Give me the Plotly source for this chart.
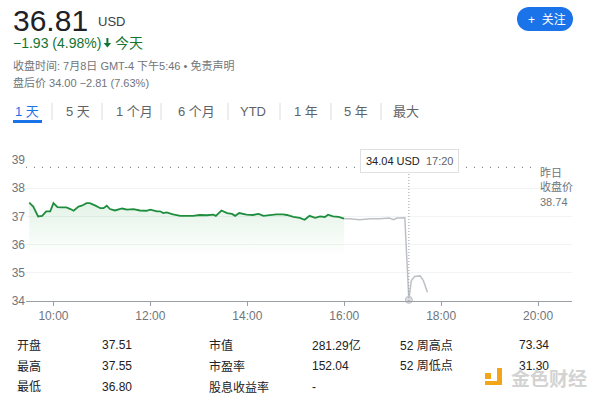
import plotly.graph_objects as go

DAY = "2021-07-08 "

# Regular session (green)
reg_times = ["09:30", "09:35", "09:41", "09:46", "09:51", "09:56", "10:00", "10:05", "10:10", "10:16",
             "10:21", "10:25", "10:31", "10:35", "10:41", "10:45", "10:52", "10:58", "11:02", "11:06",
             "11:10", "11:16", "11:25", "11:31", "11:39", "11:47", "11:55", "12:00", "12:08", "12:12",
             "12:16", "12:20", "12:28", "12:37", "12:45", "12:53", "13:01", "13:10", "13:18", "13:21",
             "13:28", "13:35", "13:41", "13:45", "13:50", "13:59", "14:07", "14:14", "14:20", "14:28",
             "14:36", "14:44", "14:49", "14:57", "15:05", "15:11", "15:17", "15:24", "15:30", "15:36",
             "15:40", "15:46", "15:53", "16:00"]
reg_prices = [37.49, 37.35, 37.00, 37.02, 37.18, 37.18, 37.47, 37.33, 37.32, 37.32,
              37.26, 37.20, 37.35, 37.38, 37.47, 37.47, 37.38, 37.29, 37.29, 37.38,
              37.26, 37.21, 37.28, 37.24, 37.26, 37.21, 37.20, 37.24, 37.18, 37.18,
              37.12, 37.14, 37.07, 37.02, 37.02, 37.02, 37.05, 37.04, 37.06, 37.02,
              37.21, 37.12, 37.09, 37.02, 37.12, 37.06, 37.05, 37.09, 37.02, 37.05,
              37.07, 37.07, 37.05, 36.98, 36.95, 36.88, 37.02, 36.95, 37.00, 36.98,
              37.06, 37.00, 36.98, 36.92]

# After-hours (grey)
ah_times = ["16:00", "16:07", "16:19", "16:32", "16:44", "16:56", "17:01", "17:05", "17:15",
            "17:20", "17:23", "17:27", "17:34", "17:38", "17:43"]
ah_prices = [36.92, 36.92, 36.88, 36.92, 36.92, 36.94, 36.88, 36.94, 36.95,
             34.04, 34.72, 34.87, 34.89, 34.72, 34.31]

prev_close = 38.74
hover_time = "17:20"
hover_price = 34.04

y_ticks = [34, 35, 36, 37, 38, 39]
x_tick_times = ["10:00", "12:00", "14:00", "16:00", "18:00", "20:00"]

tabs = ["1 天", "5 天", "1 个月", "6 个月", "YTD", "1 年", "5 年", "最大"]
tab_centers = [27, 78, 134, 196, 253, 306, 356, 406]
tab_seps = [52, 102, 161, 228, 280, 331, 381]

stat_labels_1 = ["开盘", "最高", "最低"]
stat_values_1 = ["37.51", "37.55", "36.80"]
stat_labels_2 = ["市值", "市盈率", "股息收益率"]
stat_values_2 = ["281.29亿", "152.04", "-"]
stat_labels_3 = ["52 周高点", "52 周低点"]
stat_values_3 = ["73.34", "31.30"]

FONT = "Liberation Sans, Arial, Noto Sans CJK SC"
W, H = 600, 400
L, R, T, B = 26, 28, 160, 99
PW = W - L - R
PH = H - T - B


def px(x):
    return (x - L) / PW


def py(y):
    return (H - B - y) / PH


fig = go.Figure()

fig.add_trace(go.Scatter(
    x=[DAY + t for t in reg_times], y=reg_prices, mode="lines",
    line=dict(color="#1e8e3e", width=1.8), fill="tozeroy",
    fillgradient=dict(type="vertical",
                      colorscale=[[0, "rgba(52,168,83,0)"], [1, "rgba(52,168,83,0.14)"]],
                      start=35.6, stop=37.5),
    hoverinfo="skip", showlegend=False))

fig.add_trace(go.Scatter(
    x=[DAY + t for t in ah_times], y=ah_prices, mode="lines",
    line=dict(color="#bdc1c6", width=1.5), hoverinfo="skip", showlegend=False))

fig.add_trace(go.Scatter(
    x=[DAY + hover_time], y=[hover_price], mode="markers", cliponaxis=False,
    marker=dict(color="#dadce0", size=7, line=dict(color="#bdc1c6", width=1)),
    hoverinfo="skip", showlegend=False))

shapes = []
# previous close dotted line
shapes.append(dict(type="line", xref="x", yref="y", x0=DAY + "09:26", x1=DAY + "20:00",
                   y0=prev_close, y1=prev_close,
                   line=dict(color="#80868b", width=1.2, dash="1px,7px"), layer="above"))
# vertical hover line
shapes.append(dict(type="line", xref="x", yref="paper", x0=DAY + hover_time, x1=DAY + hover_time,
                   y0=0, y1=py(174), line=dict(color="#9aa0a6", width=1, dash="1px,2px")))
# tab underline
shapes.append(dict(type="rect", xref="paper", yref="paper", x0=px(13), x1=px(42),
                   y0=py(123), y1=py(120), fillcolor="#1a73e8", line=dict(width=0)))
# tab separators
for s in tab_seps:
    shapes.append(dict(type="line", xref="paper", yref="paper", x0=px(s), x1=px(s),
                       y0=py(103), y1=py(120), line=dict(color="#dadce0", width=1)))
# follow button (pill)
shapes.append(dict(type="rect", xref="paper", yref="paper", x0=px(529), x1=px(561),
                   y0=py(31), y1=py(7), fillcolor="#1a73e8", line=dict(width=0)))
for cx0, cx1 in [(517, 541), (549, 573)]:
    shapes.append(dict(type="circle", xref="paper", yref="paper", x0=px(cx0), x1=px(cx1),
                       y0=py(31), y1=py(7), fillcolor="#1a73e8", line=dict(width=0)))
# down arrow icon next to the change
pts = [(106.4, 38), (108.4, 38), (108.4, 43), (111.2, 43), (107.4, 47.5), (103.6, 43), (106.4, 43)]
path = "M " + " L ".join("%f,%f" % (px(a), py(b)) for a, b in pts) + " Z"
shapes.append(dict(type="path", xref="paper", yref="paper", path=path,
                   fillcolor="#137333", line=dict(width=0)))
# watermark icon
for (a, b, c, d) in [(485, 491, 373, 379), (497, 502, 368, 385), (485, 502, 381, 385)]:
    shapes.append(dict(type="rect", xref="paper", yref="paper", x0=px(a), x1=px(b),
                       y0=py(d), y1=py(c), fillcolor="#f2a516", line=dict(width=0)))

ann = []


def text(x, y, s, size, color, anchor="left"):
    ann.append(dict(x=px(x), y=py(y), xref="paper", yref="paper", text=s, showarrow=False,
                    xanchor=anchor, yanchor="middle",
                    font=dict(family=FONT, size=size, color=color)))


text(11, 20, "36.81", 30, "#202124")
text(96, 21, "USD", 13, "#3c4043")
text(11, 43, "−1.93 (4.98%)", 14, "#137333")
text(113, 43, "今天", 14, "#137333")
text(11, 66, "收盘时间: 7月8日 GMT-4 下午5:46 • 免责声明", 11, "#70757a")
text(11, 82, "盘后价 34.00 −2.81 (7.63%)", 11, "#70757a")
for i, (t, c) in enumerate(zip(tabs, tab_centers)):
    text(c, 111, t, 13, "#1a73e8" if i == 0 else "#5f6368", anchor="center")
text(547, 19, "+  关注", 12, "#ffffff", anchor="center")

# tooltip
ann.append(dict(x=px(409.5), y=py(160.5), xref="paper", yref="paper",
                text="34.04 USD&nbsp;&nbsp;<span style='color:#5f6368'>17:20</span>", showarrow=False,
                xanchor="center", yanchor="middle", bgcolor="#ffffff", bordercolor="#e0e0e0",
                borderwidth=1, borderpad=5, font=dict(family=FONT, size=11, color="#202124")))
# previous close label
ann.append(dict(x=px(538), y=py(187), xref="paper", yref="paper",
                text="昨日<br>收盘价<br>%.2f" % prev_close, showarrow=False, xanchor="left",
                yanchor="middle", align="left", font=dict(family=FONT, size=11, color="#70757a")))

rows_y = [345, 366, 387]
for i in range(3):
    text(15, rows_y[i], stat_labels_1[i], 12, "#202124")
    text(100, rows_y[i], stat_values_1[i], 12, "#202124")
    text(207, rows_y[i], stat_labels_2[i], 12, "#202124")
    text(310, rows_y[i], stat_values_2[i], 12, "#202124")
for i in range(2):
    text(398, rows_y[i], stat_labels_3[i], 12, "#202124")
    text(517, rows_y[i], stat_values_3[i], 12, "#202124")

text(509, 379, "<b>金色财经</b>", 19, "#d3d3d3")

fig.update_layout(
    width=W, height=H, margin=dict(l=L, r=R, t=T, b=B),
    paper_bgcolor="white", plot_bgcolor="white",
    shapes=shapes, annotations=ann, showlegend=False,
    xaxis=dict(type="date", range=[DAY + "09:26", DAY + "20:42"],
               tickvals=[DAY + t for t in x_tick_times], ticktext=x_tick_times,
               showgrid=False, showline=True, linecolor="#9aa0a6", linewidth=1,
               ticks="outside", ticklen=4, tickcolor="#9aa0a6",
               tickfont=dict(family=FONT, size=12, color="#70757a"), zeroline=False, fixedrange=True),
    yaxis=dict(range=[34, 39], tickvals=y_ticks, showgrid=True, gridcolor="#f1f3f4",
               tickfont=dict(family=FONT, size=12, color="#70757a"), zeroline=False,
               showline=False, ticks="", fixedrange=True),
)

fig.write_html("out.html", config={"displayModeBar": False},
               post_script="document.body.style.margin='0';document.body.style.overflow='hidden';")
